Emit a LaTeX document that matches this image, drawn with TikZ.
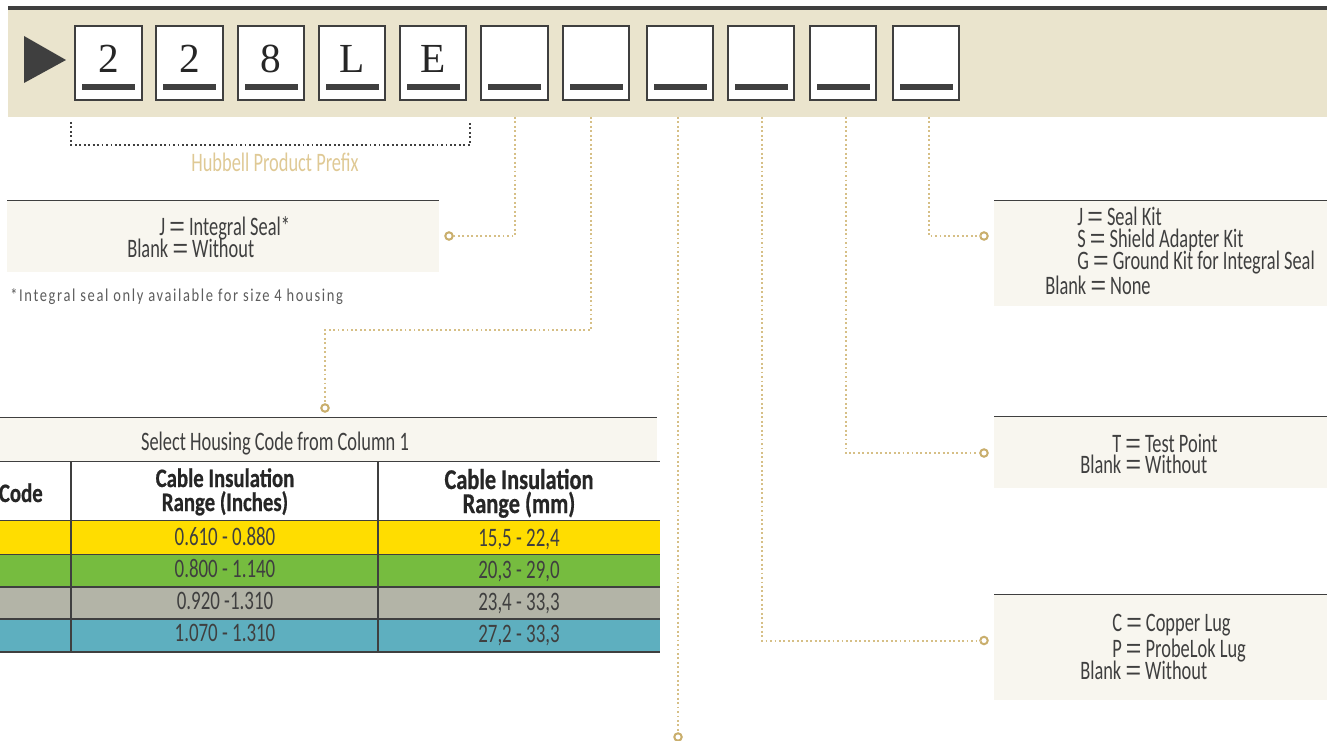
\documentclass[tikz,border=0pt]{standalone}
\usepackage{fontspec}
\setmainfont{Carlito}
\newfontfamily\lightf[FakeStretch=0.69]{Carlito}
\newfontfamily\rowf[FakeStretch=0.71]{Carlito}
\newfontfamily\prefixf[FakeStretch=0.69]{Carlito}
\newfontfamily\notef[FakeStretch=0.80]{Carlito}
\newfontfamily\boldf[FakeStretch=0.78,FakeBold=0.6]{Carlito Bold}
\newfontfamily\serf{Liberation Serif}
\newfontfamily\eqf{Liberation Sans}
\newcommand{\eqs}{{\eqf =}}
\definecolor{band}{HTML}{EAE4CD}
\definecolor{panel}{HTML}{F8F6EF}
\definecolor{ink}{HTML}{3F3F3F}
\definecolor{gold}{HTML}{C9AE6C}
\definecolor{golddot}{HTML}{D6BF86}
\definecolor{prefix}{HTML}{DFC995}
\definecolor{ryellow}{HTML}{FFDD00}
\definecolor{rgreen}{HTML}{76BC3F}
\definecolor{rgrey}{HTML}{B3B4A7}
\definecolor{rblue}{HTML}{5EAFBF}
\tikzset{
  charbox/.style={draw=ink,line width=1.4pt,fill=white,minimum width=50pt,minimum height=55pt,inner sep=0pt,outer sep=0pt},
  bar/.style={fill=ink,draw=none},
  leader/.style={draw=golddot,line width=1.5pt,dash pattern=on 1.4pt off 1.95pt},
  ring/.style={circle,draw=gold,line width=1.5pt,fill=white,minimum size=5.6pt,inner sep=0pt,outer sep=0pt},
  label/.style={anchor=base west,inner sep=0pt,text=ink,font=\lightf\fontsize{20}{20}\selectfont},
  cell/.style={anchor=base,inner sep=0pt,text=ink,font=\lightf\fontsize{20}{20}\selectfont},
  rowcell/.style={anchor=base,inner sep=0pt,text=ink,font=\rowf\fontsize{20}{20}\selectfont},
  head/.style={anchor=base,inner sep=0pt,text=black!85,font=\boldf\fontsize{20}{20}\selectfont},
  headwide/.style={anchor=base,inner sep=0pt,text=black!85,font=\boldf\fontsize{21.5}{21.5}\selectfont},
  rulel/.style={draw=ink,line width=0.9pt},
}
\begin{document}
\begin{tikzpicture}[x=0.75pt,y=-0.75pt]
\useasboundingbox (0,0) rectangle (1331,741);
% band
\fill[band] (8,10) rectangle (1327,117);
\fill[ink] (8,6) rectangle (1327,10);
\fill[ink] (24,36) -- (66,60) -- (24,83) -- cycle;
% character boxes
\foreach \n/\x/\t in {a/108.5/2,b/189.5/2,c/271/8,d/352/L,e/433/E,f/514.5/{},g/596/{},h/680/{},i/761/{},j/843/{},k/926/{}}{
  \node[charbox] (box\n) at (\x,63) {};
  \fill[bar] ([shift={(-26.5,21)}]\x,63) rectangle ([shift={(26.5,27)}]\x,63);
  \node[anchor=base,inner sep=0pt,text=black!85,font=\serf\fontsize{31}{31}\selectfont] at (\x,73) {\t};
}
% bracket
\coordinate (brl) at (71,122);
\coordinate (brr) at (470,122);
\draw[draw=ink,line width=1.5pt,dash pattern=on 1.4pt off 1.95pt] (brl) -- (71,145) -- (470,145) -- (brr);
\node[anchor=base,inner sep=0pt,text=prefix,font=\prefixf\fontsize{20}{20}\selectfont] (prefixlab) at (275,172) {Hubbell Product Prefix};
% left panel
\fill[panel] (7,200) rectangle (439,272);
\draw[rulel] (7,200.5) -- (439,200.5);
\node[label] (l1) at (159,236) {J \eqs{} Integral Seal*};
\node[label] (l2) at (127,258) {Blank \eqs{} Without};
\node[label,font=\notef\fontsize{13.6}{13.6}\selectfont,text=ink!85] (note) at (10,302) {\addfontfeature{LetterSpace=9}*Integral seal only available for size 4 housing};
% right panels
\fill[panel] (994,200) rectangle (1327,306);
\draw[rulel] (994,200.5) -- (1327,200.5);
\node[label] at (1077,226) {J \eqs{} Seal Kit};
\node[label] at (1077,248) {S \eqs{} Shield Adapter Kit};
\node[label] at (1077,270) {G \eqs{} Ground Kit for Integral Seal};
\node[label] at (1045,295) {Blank \eqs{} None};
\fill[panel] (994,416) rectangle (1327,488);
\draw[rulel] (994,416.5) -- (1327,416.5);
\node[label] at (1112,452) {T \eqs{} Test Point};
\node[label] at (1080,473) {Blank \eqs{} Without};
\fill[panel] (994,594) rectangle (1327,700);
\draw[rulel] (994,594.5) -- (1327,594.5);
\node[label] at (1112,631) {C \eqs{} Copper Lug};
\node[label] at (1112,657) {P \eqs{} ProbeLok Lug};
\node[label] at (1080,679) {Blank \eqs{} Without};
% table
\fill[panel] (0,417) rectangle (657,461);
\fill[ryellow] (0,521) rectangle (660,554);
\fill[rgreen] (0,554) rectangle (660,587);
\fill[rgrey] (0,587) rectangle (660,619);
\fill[rblue] (0,619) rectangle (660,652);
\draw[rulel] (0,417.5) -- (657,417.5);
\foreach \y in {461.5,520.5,554.5,587,619,652}{\draw[rulel] (0,\y) -- (660,\y);}
\draw[rulel] (71,461) -- (71,652);
\draw[rulel] (378,461) -- (378,652);
\node[cell] at (275,450) {Select Housing Code from Column 1};
\node[head,anchor=base east] at (43,502) {Code};
\node[head] at (225,487) {Cable Insulation};
\node[head] at (225,511) {Range (Inches)};
\node[headwide] at (519,489) {Cable Insulation};
\node[headwide] at (519,513) {Range (mm)};
\node[rowcell] at (225,545) {0.610 - 0.880};
\node[rowcell] at (519,546) {15,5 - 22,4};
\node[rowcell] at (225,577) {0.800 - 1.140};
\node[rowcell] at (519,578) {20,3 - 29,0};
\node[rowcell] at (225,609) {0.920 -1.310};
\node[rowcell] at (519,610) {23,4 - 33,3};
\node[rowcell] at (225,641) {1.070 - 1.310};
\node[rowcell] at (519,642) {27,2 - 33,3};
% rings
\node[ring] (r1) at (449,236) {};
\node[ring] (r2) at (325,408) {};
\node[ring] (r3) at (678,737) {};
\node[ring] (r4) at (984,640.5) {};
\node[ring] (r5) at (984,453) {};
\node[ring] (r6) at (984,236) {};
% leaders
\coordinate (s1) at (515,117);
\coordinate (s2) at (591,117);
\coordinate (s3) at (678,117);
\coordinate (s4) at (762,117);
\coordinate (s5) at (845.5,117);
\coordinate (s6) at (929,117);
\draw[leader] (s1) |- (r1);
\draw[leader] (s2) -- (591,330) -- (325,330) -- (r2);
\draw[leader] (s3) -- (r3);
\draw[leader] (s4) |- (r4);
\draw[leader] (s5) |- (r5);
\draw[leader] (s6) |- (r6);
\end{tikzpicture}
\end{document}
